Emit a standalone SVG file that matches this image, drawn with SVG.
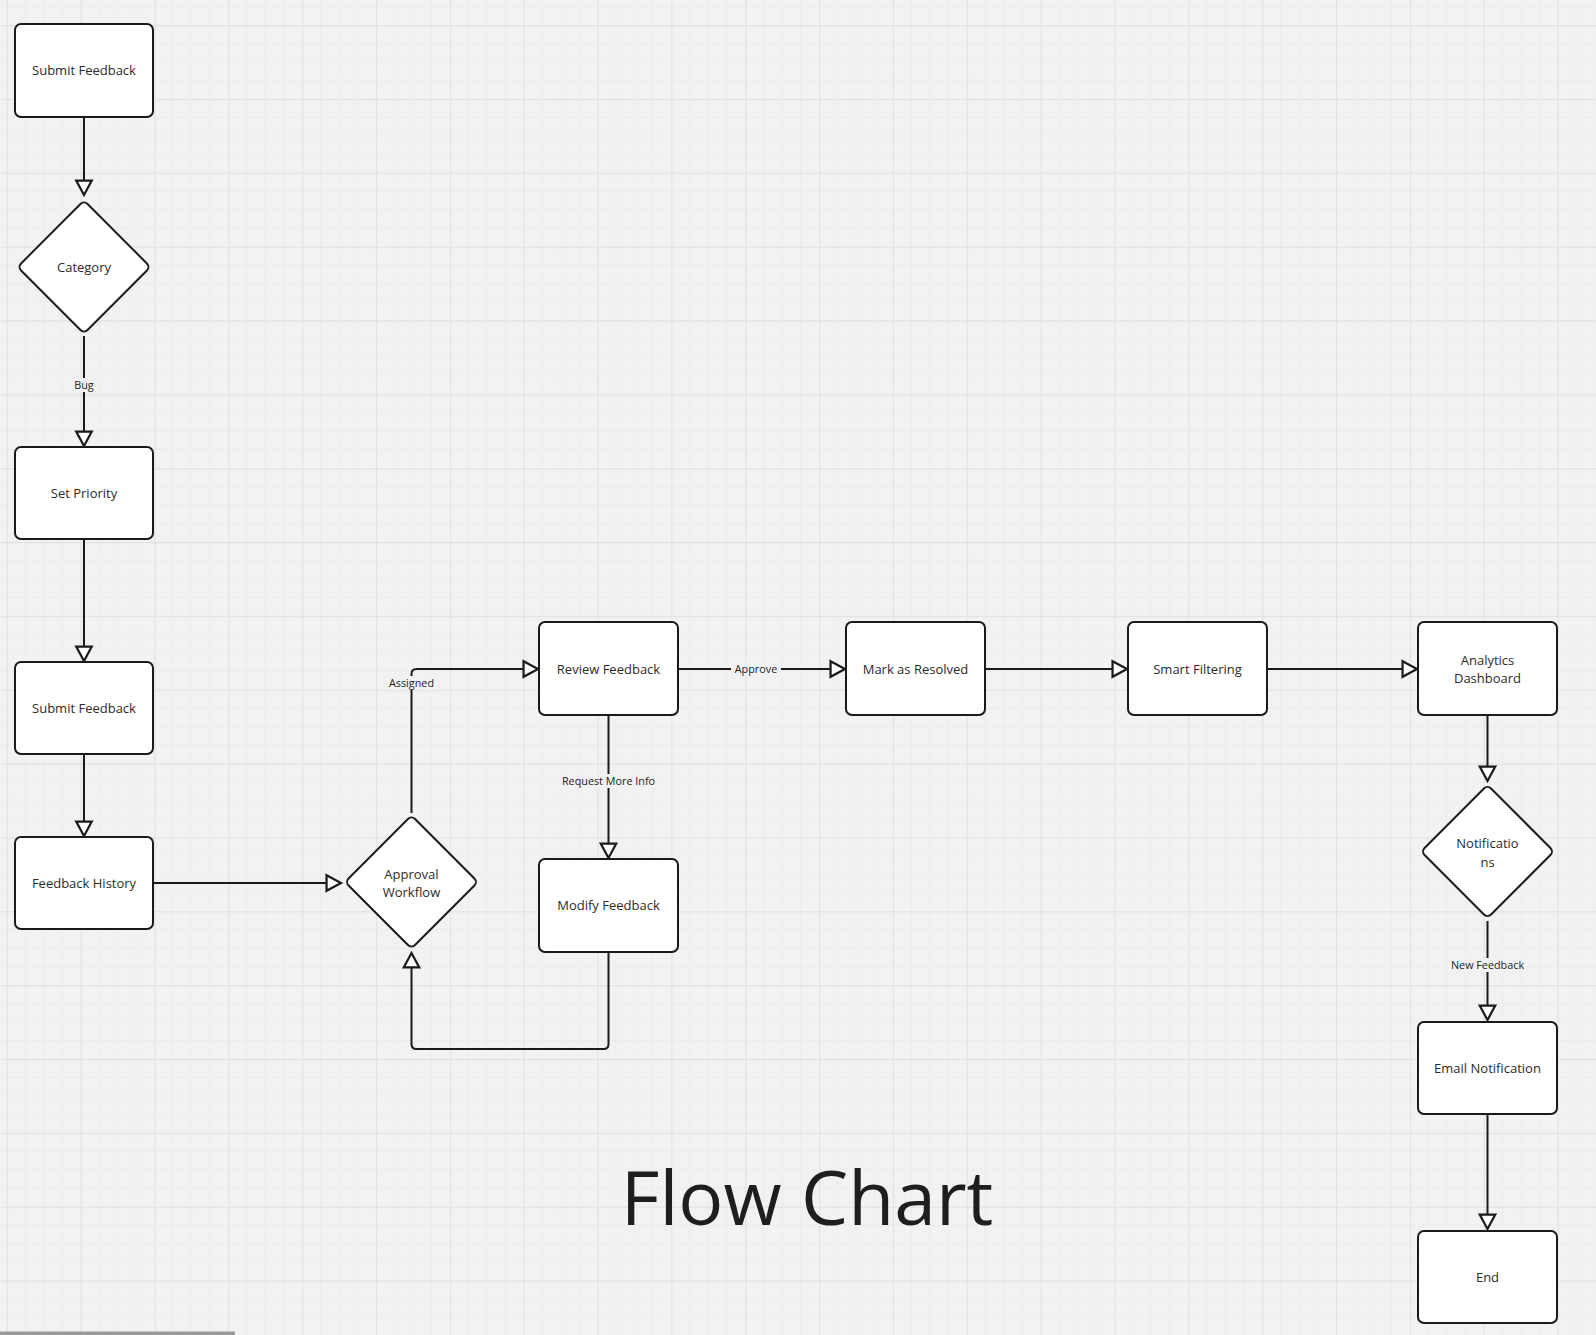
<svg xmlns="http://www.w3.org/2000/svg" width="1596" height="1335" viewBox="0 0 1596 1335">
<style>
.node rect, .node path { fill:#ffffff; stroke:#1a1a1a; stroke-width:2; }
.t { font-family:"Open Sans","Liberation Sans",sans-serif; font-size:13px; fill:#2b2b2b; text-anchor:middle; }
.lbl { font-family:"Open Sans","Liberation Sans",sans-serif; font-size:10.8px; fill:#222; text-anchor:middle; }
.lblbg { fill:#f2f2f2; }
.edge { fill:none; stroke:#1a1a1a; stroke-width:2; stroke-linejoin:round; }
</style>
<defs>
<pattern id="grid" patternUnits="userSpaceOnUse" x="6.7" y="25" width="73.85" height="73.85">
<path d="M18.46 0V73.85M36.92 0V73.85M55.39 0V73.85M0 18.46H73.85M0 36.92H73.85M0 55.39H73.85" stroke="#ececec" stroke-width="1" fill="none"/>
<path d="M0.5 0V73.85M0 0.5H73.85" stroke="#e2e2e2" stroke-width="1.3" fill="none"/>
</pattern>
<marker id="arr" markerUnits="userSpaceOnUse" markerWidth="20" markerHeight="20" viewBox="-15 -9 17 18" refX="0" refY="0" orient="auto">
<path d="M-13 -7 L0 0 L-13 7 Z" fill="#ffffff" stroke="#1a1a1a" stroke-width="2" stroke-linejoin="miter"/>
</marker>
</defs>
<rect width="1596" height="1335" fill="#f2f2f2"/>
<rect width="1596" height="1335" fill="url(#grid)"/>
<rect x="0" y="1331.5" width="235" height="3.5" fill="#9a9a9a"/>

<g id="connectors">
<path class="edge" d="M84 117V195" marker-end="url(#arr)"/>
<path class="edge" d="M84 336V446" marker-end="url(#arr)"/>
<path class="edge" d="M84 539V661" marker-end="url(#arr)"/>
<path class="edge" d="M84 754V836" marker-end="url(#arr)"/>
<path class="edge" d="M153 883H341" marker-end="url(#arr)"/>
<path class="edge" d="M411.5 813V674Q411.5 669 416.5 669H538" marker-end="url(#arr)"/>
<path class="edge" d="M678 669H845" marker-end="url(#arr)"/>
<path class="edge" d="M608.5 715V858" marker-end="url(#arr)"/>
<path class="edge" d="M608.5 952V1044Q608.5 1049 603.5 1049H416.5Q411.5 1049 411.5 1044V953" marker-end="url(#arr)"/>
<path class="edge" d="M985 669H1127" marker-end="url(#arr)"/>
<path class="edge" d="M1267 669H1417" marker-end="url(#arr)"/>
<path class="edge" d="M1487.5 715V781" marker-end="url(#arr)"/>
<path class="edge" d="M1487.5 921V1020" marker-end="url(#arr)"/>
<path class="edge" d="M1487.5 1114V1229" marker-end="url(#arr)"/>
<rect class="lblbg" x="72" y="378" width="24" height="14"/>
<text class="lbl" x="84" y="389">Bug</text>
<rect class="lblbg" x="387" y="676" width="49" height="14"/>
<text class="lbl" x="411.5" y="687">Assigned</text>
<rect class="lblbg" x="731" y="662" width="50" height="14"/>
<text class="lbl" x="756" y="673">Approve</text>
<rect class="lblbg" x="560" y="774" width="97" height="14"/>
<text class="lbl" x="608.5" y="785">Request More Info</text>
<rect class="lblbg" x="1448" y="958" width="79" height="14"/>
<text class="lbl" x="1487.5" y="969">New Feedback</text>
</g>

<g id="n-submit1" class="node"><rect x="15" y="24" width="138" height="93" rx="6"/><text class="t" x="84" y="75">Submit Feedback</text></g>
<g id="n-category" class="node"><rect x="37" y="220" width="94" height="94" rx="5" transform="rotate(45 84 267)"/><text class="t" x="84" y="272">Category</text></g>
<g id="n-priority" class="node"><rect x="15" y="447" width="138" height="92" rx="6"/><text class="t" x="84" y="498">Set Priority</text></g>
<g id="n-submit2" class="node"><rect x="15" y="662" width="138" height="92" rx="6"/><text class="t" x="84" y="713">Submit Feedback</text></g>
<g id="n-history" class="node"><rect x="15" y="837" width="138" height="92" rx="6"/><text class="t" x="84" y="888">Feedback History</text></g>
<g id="n-approval" class="node"><rect x="364.5" y="835" width="94" height="94" rx="5" transform="rotate(45 411.5 882)"/><text class="t" x="411.5" y="879">Approval</text><text class="t" x="411.5" y="897">Workflow</text></g>
<g id="n-review" class="node"><rect x="539" y="622" width="139" height="93" rx="6"/><text class="t" x="608.5" y="674">Review Feedback</text></g>
<g id="n-modify" class="node"><rect x="539" y="859" width="139" height="93" rx="6"/><text class="t" x="608.5" y="910">Modify Feedback</text></g>
<g id="n-resolved" class="node"><rect x="846" y="622" width="139" height="93" rx="6"/><text class="t" x="915.5" y="674">Mark as Resolved</text></g>
<g id="n-filtering" class="node"><rect x="1128" y="622" width="139" height="93" rx="6"/><text class="t" x="1197.5" y="674">Smart Filtering</text></g>
<g id="n-analytics" class="node"><rect x="1418" y="622" width="139" height="93" rx="6"/><text class="t" x="1487.5" y="665">Analytics</text><text class="t" x="1487.5" y="683">Dashboard</text></g>
<g id="n-notifications" class="node"><rect x="1440.5" y="804.5" width="94" height="94" rx="5" transform="rotate(45 1487.5 851.5)"/><text class="t" x="1487.5" y="848">Notificatio</text><text class="t" x="1487.5" y="867">ns</text></g>
<g id="n-email" class="node"><rect x="1418" y="1022" width="139" height="92" rx="6"/><text class="t" x="1487.5" y="1073">Email Notification</text></g>
<g id="n-end" class="node"><rect x="1418" y="1231" width="139" height="92" rx="6"/><text class="t" x="1487.5" y="1282">End</text></g>

<text id="title" x="807" y="1225" font-family="'Open Sans','Liberation Sans',sans-serif" font-size="75" fill="#1e1e1e" text-anchor="middle">Flow Chart</text>
</svg>
